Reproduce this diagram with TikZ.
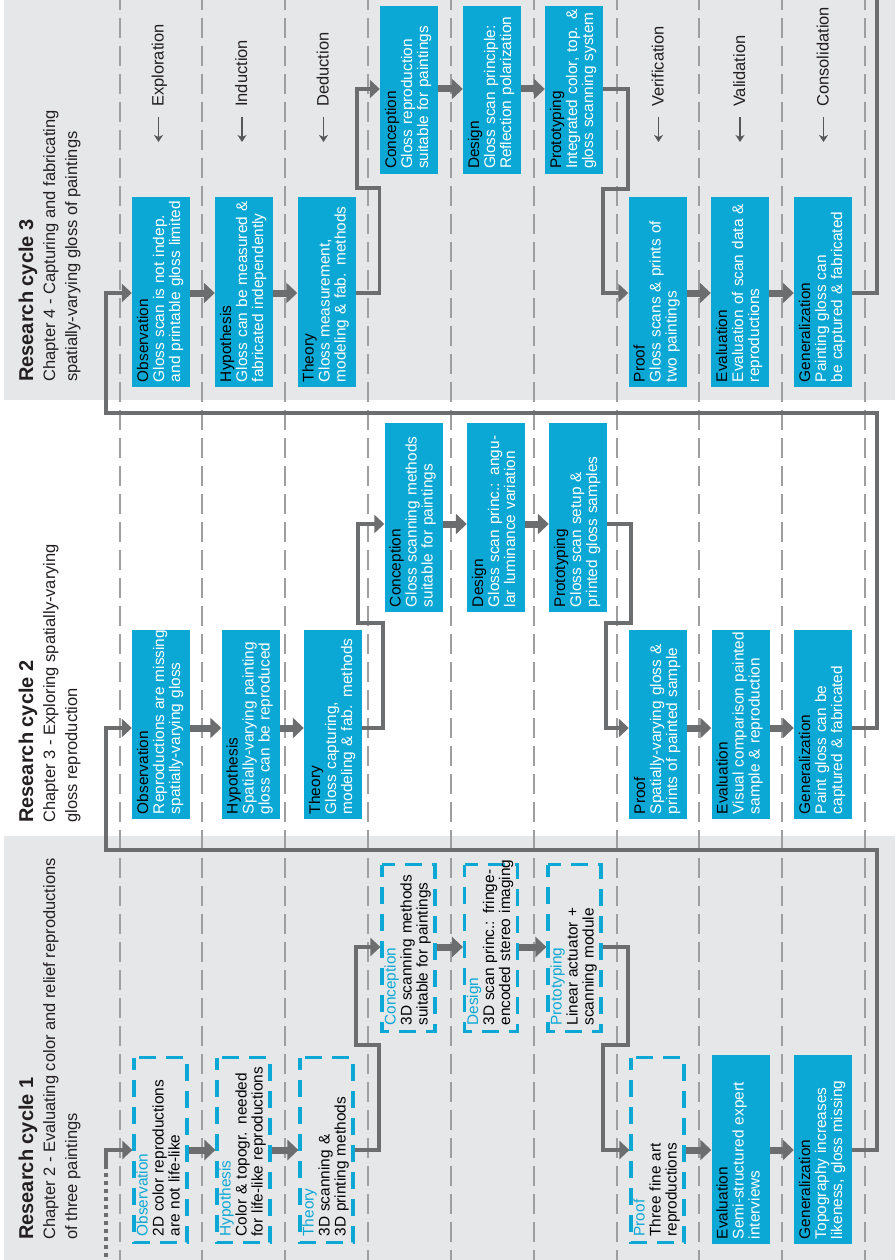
\documentclass[tikz,border=0pt]{standalone}
\usepackage{fontspec}
\setmainfont{Liberation Sans}
\usetikzlibrary{arrows.meta,calc}
\setlength\parindent{0pt}
\definecolor{cy}{RGB}{11,168,214}
\definecolor{panel}{RGB}{230,231,232}
\definecolor{conn}{RGB}{108,109,111}
\definecolor{colline}{RGB}{158,158,158}
\definecolor{ink}{RGB}{35,31,32}
\colorlet{ttlcol}{black}
% three-line box text: stage title, then two lines of description
\newcommand\stagetext[3]{\begin{tabular}{@{}l@{}}{\color{ttlcol}#1}\\#2\\#3\end{tabular}}
\newcommand\stagefont{\fontsize{15.4}{16}\selectfont}
\tikzset{
  stage/.style={rotate=90, inner xsep=5pt, inner ysep=0pt, align=left, font=\stagefont},
  solidstage/.style={stage, fill=cy, draw=none, text=white,
    execute at begin node=\colorlet{ttlcol}{black}},
  dashstage/.style={stage, draw=cy, line width=3.2pt, dash pattern=on 17pt off 10pt,
    dash phase=5pt, inner xsep=6pt, text=black, execute at begin node=\colorlet{ttlcol}{cy}},
  lowA/.style={minimum width=190pt, text width=180pt, minimum height=58pt},
  upA/.style={minimum width=168pt, text width=158pt, minimum height=58pt},
  lowB/.style={minimum width=189pt, text width=179pt, minimum height=58pt},
  dlow/.style={minimum width=185pt, text width=173pt, minimum height=53pt},
  dup/.style={minimum width=167pt, text width=155pt, minimum height=53pt},
  colsep/.style={colline, line width=1.5pt, dash pattern=on 20pt off 8pt, dash phase=10pt},
  stepto/.style={conn, line width=7pt, -{Triangle[length=11pt,width=20pt]}},
  elbow/.style={conn, line width=3.5pt, -{Triangle[length=10pt,width=18pt]}},
  cyclelink/.style={conn, line width=4pt},
  cyctitle/.style={rotate=90, inner sep=0pt, text=ink, font=\fontsize{20}{24}\selectfont\bfseries},
  cycsub/.style={rotate=90, inner sep=0pt, text=ink, font=\fontsize{16.5}{20}\selectfont},
  phase/.style={rotate=90, inner sep=0pt, text=ink, font=\fontsize{16.5}{20}\selectfont},
  phasearrow/.style={conn!80!black, line width=1.6pt, -{Stealth[length=7pt,width=9pt,inset=2pt]}}
}
\begin{document}
\begin{tikzpicture}[x=1pt,y=-1pt]
\useasboundingbox (0,0) rectangle (895,1260);
\fill[white] (0,0) rectangle (895,1260);
% grey panels of cycles 3 and 1
\fill[panel] (4,0) rectangle (895,400);
\fill[panel] (4,836) rectangle (895,1260);

% dashed separators between the stage columns
\foreach \cx in {120,202,285,368,451,534,617,699,782,865}
  \draw[colsep] (\cx,0) -- (\cx,1260);

% arrow levels of each cycle
\coordinate (y3u) at (0,89);
\coordinate (y3l) at (0,293);
\coordinate (y2u) at (0,524);
\coordinate (y2l) at (0,728);
\coordinate (y1u) at (0,947);
\coordinate (y1l) at (0,1150);

% ---------- headers ----------
\node[cyctitle, anchor=base west] (t3) at (33,382) {Research cycle 3};
\node[cycsub, anchor=base west] (t3a) at (55,382) {Chapter 4 - Capturing and fabricating};
\node[cycsub, anchor=base west] (t3b) at (77,382) {spatially-varying gloss of paintings};
\node[cyctitle, anchor=base west] (t2) at (33,823) {Research cycle 2};
\node[cycsub, anchor=base west] (t2a) at (55,823) {Chapter 3 - Exploring spatially-varying};
\node[cycsub, anchor=base west] (t2b) at (77,823) {gloss reproduction};
\node[cyctitle, anchor=base west] (t1) at (33,1240) {Research cycle 1};
\node[cycsub, anchor=base west] (t1a) at (55,1240) {Chapter 2 - Evaluating color and relief reproductions};
\node[cycsub, anchor=base west] (t1b) at (77,1240) {of three paintings};

% ---------- phase labels ----------
\foreach \bx/\nm/\txt in {163.5/pa/Exploration, 247/pb/Induction, 328.5/pc/Deduction,
    663.5/pd/Verification, 745/pe/Validation, 828.5/pf/Consolidation}{
  \node[phase, anchor=base west] (\nm) at (\bx,107) {\txt};
  \draw[phasearrow] ($(\nm.base west)+(-5,10)$) -- ++(0,25);
}

% ---------- cycle 3 ----------
\node[solidstage, lowA] (ob3) at (161,292) {\stagetext{Observation}{Gloss scan is not indep.}{and printable gloss limited}};
\node[solidstage, lowA] (hy3) at (244,292) {\stagetext{Hypothesis}{Gloss can be measured \&}{fabricated independently}};
\node[solidstage, lowA] (th3) at (326.5,292) {\stagetext{Theory}{Gloss measurement,}{modeling \& fab. methods}};
\node[solidstage, upA] (co3) at (409,90) {\stagetext{Conception}{Gloss reproduction}{suitable for paintings}};
\node[solidstage, upA] (de3) at (492,90) {\stagetext{Design}{Gloss scan principle:}{Reflection polarization}};
\node[solidstage, upA] (pr3) at (574,90) {\stagetext{Prototyping}{Integrated color, top. \&}{gloss scanning system}};
\node[solidstage, lowA] (pf3) at (657.5,292) {\stagetext{Proof}{Gloss scans \& prints of}{two paintings}};
\node[solidstage, lowA] (ev3) at (740,292) {\stagetext{Evaluation}{Evaluation of scan data \&}{reproductions}};
\node[solidstage, lowA] (ge3) at (823,292) {\stagetext{Generalization}{Painting gloss can}{be captured \& fabricated}};

% ---------- cycle 2 ----------
\node[solidstage, lowB] (ob2) at (161,724.5) {\stagetext{Observation}{Reproductions are missing}{spatially-varying gloss}};
\node[solidstage, lowB] (hy2) at (250.5,724.5) {\stagetext{Hypothesis}{Spatially-varying painting}{gloss can be reproduced}};
\node[solidstage, lowB] (th2) at (333,724.5) {\stagetext{Theory}{Gloss capturing,}{modeling \& fab. methods}};
\node[solidstage, lowB] (co2) at (413.5,517.5) {\stagetext{Conception}{Gloss scanning methods}{suitable for paintings}};
\node[solidstage, lowB] (de2) at (496,517.5) {\stagetext{Design}{Gloss scan princ.: angu-}{lar luminance variation}};
\node[solidstage, lowB] (pr2) at (578,517.5) {\stagetext{Prototyping}{Gloss scan setup \&}{printed gloss samples}};
\node[solidstage, lowB] (pf2) at (658,724.5) {\stagetext{Proof}{Spatially-varying gloss \&}{prints of painted sample}};
\node[solidstage, lowB] (ev2) at (740.5,724.5) {\stagetext{Evaluation}{Visual comparison painted}{sample \& reproduction}};
\node[solidstage, lowB] (ge2) at (823,724.5) {\stagetext{Generalization}{Paint gloss can be}{captured \& fabricated}};

% ---------- cycle 1 ----------
\node[dashstage, dlow] (ob1) at (160.5,1150) {\stagetext{Observation}{2D color reproductions}{are not life-like}};
\node[dashstage, dlow] (hy1) at (243.5,1150) {\stagetext{Hypothesis}{Color \& topogr. needed}{for life-like reproductions}};
\node[dashstage, dlow] (th1) at (326.5,1150) {\stagetext{Theory}{3D scanning \&}{3D printing methods}};
\node[dashstage, dup] (co1) at (408.5,948) {\stagetext{Conception}{3D scanning methods}{suitable for paintings}};
\node[dashstage, dup] (de1) at (491,948) {\stagetext{Design}{3D scan princ.: fringe-}{encoded stereo imaging}};
\node[dashstage, dup] (pr1) at (574.5,948) {\stagetext{Prototyping}{Linear actuator +}{scanning module}};
\node[dashstage, dlow] (pf1) at (657.5,1150) {\stagetext{Proof}{Three fine art}{reproductions}};
\node[solidstage, lowB] (ev1) at (740.5,1149.5) {\stagetext{Evaluation}{Semi-structured expert}{interviews}};
\node[solidstage, lowB] (ge1) at (823,1149.5) {\stagetext{Generalization}{Topography increases}{likeness, gloss missing}};

% ---------- waypoints of the bent connectors ----------
\coordinate (e3a) at (357,188);
\coordinate (e3b) at (603,189);
\coordinate (e2a) at (358,623);
\coordinate (e2b) at (606,623);
\coordinate (e1a) at (356,1045);
\coordinate (e1b) at (603,1045);
\coordinate (r3a) at (877,-5);
\coordinate (r2a) at (877,413);
\coordinate (r2b) at (106,293);
\coordinate (r1a) at (877,850);
\coordinate (r1b) at (106,728);
\coordinate (s1) at (106,1265);
\coordinate (s1m) at (106,1168);

% ---------- cycle 3 connectors ----------
\draw[stepto] (ob3.south |- y3l) -- (hy3.north |- y3l);
\draw[stepto] (hy3.south |- y3l) -- (th3.north |- y3l);
\draw[elbow] (th3.south |- y3l) -- ++(24,0) |- (e3a) |- (co3.north |- y3u);
\draw[stepto] (co3.south |- y3u) -- (de3.north |- y3u);
\draw[stepto] (de3.south |- y3u) -- (pr3.north |- y3u);
\draw[elbow] (pr3.south |- y3u) -- ++(25,0) |- (e3b) |- (pf3.north |- y3l);
\draw[stepto] (pf3.south |- y3l) -- (ev3.north |- y3l);
\draw[stepto] (ev3.south |- y3l) -- (ge3.north |- y3l);
\draw[cyclelink] (ge3.south |- y3l) -| (r3a);

% ---------- cycle 2 connectors ----------
\draw[stepto] (ob2.south |- y2l) -- (hy2.north |- y2l);
\draw[stepto] (hy2.south |- y2l) -- (th2.north |- y2l);
\draw[elbow] (th2.south |- y2l) -- ++(21,0) |- (e2a) |- (co2.north |- y2u);
\draw[stepto] (co2.south |- y2u) -- (de2.north |- y2u);
\draw[stepto] (de2.south |- y2u) -- (pr2.north |- y2u);
\draw[elbow] (pr2.south |- y2u) -- ++(24,0) |- (e2b) |- (pf2.north |- y2l);
\draw[stepto] (pf2.south |- y2l) -- (ev2.north |- y2l);
\draw[stepto] (ev2.south |- y2l) -- (ge2.north |- y2l);
\draw[cyclelink, -{Triangle[length=10pt,width=18pt]}] (ge2.south |- y2l) -| (r2a) -| (r2b) -- (ob3.north |- r2b);

% ---------- cycle 1 connectors ----------
\draw[cyclelink, dash pattern=on 4pt off 4pt] (s1) -- (s1m);
\draw[cyclelink, -{Triangle[length=10pt,width=18pt]}] (s1m) |- (ob1.north |- y1l);
\draw[stepto] (ob1.south |- y1l) -- (hy1.north |- y1l);
\draw[stepto] (hy1.south |- y1l) -- (th1.north |- y1l);
\draw[elbow] (th1.south |- y1l) -- ++(24.5,0) |- (e1a) |- (co1.north |- y1u);
\draw[stepto] (co1.south |- y1u) -- (de1.north |- y1u);
\draw[stepto] (de1.south |- y1u) -- (pr1.north |- y1u);
\draw[elbow] (pr1.south |- y1u) -- ++(25.5,0) |- (e1b) |- (pf1.north |- y1l);
\draw[stepto] (pf1.south |- y1l) -- (ev1.north |- y1l);
\draw[stepto] (ev1.south |- y1l) -- (ge1.north |- y1l);
\draw[cyclelink, -{Triangle[length=10pt,width=18pt]}] (ge1.south |- y1l) -| (r1a) -| (r1b) -- (ob2.north |- r1b);
\end{tikzpicture}
\end{document}
